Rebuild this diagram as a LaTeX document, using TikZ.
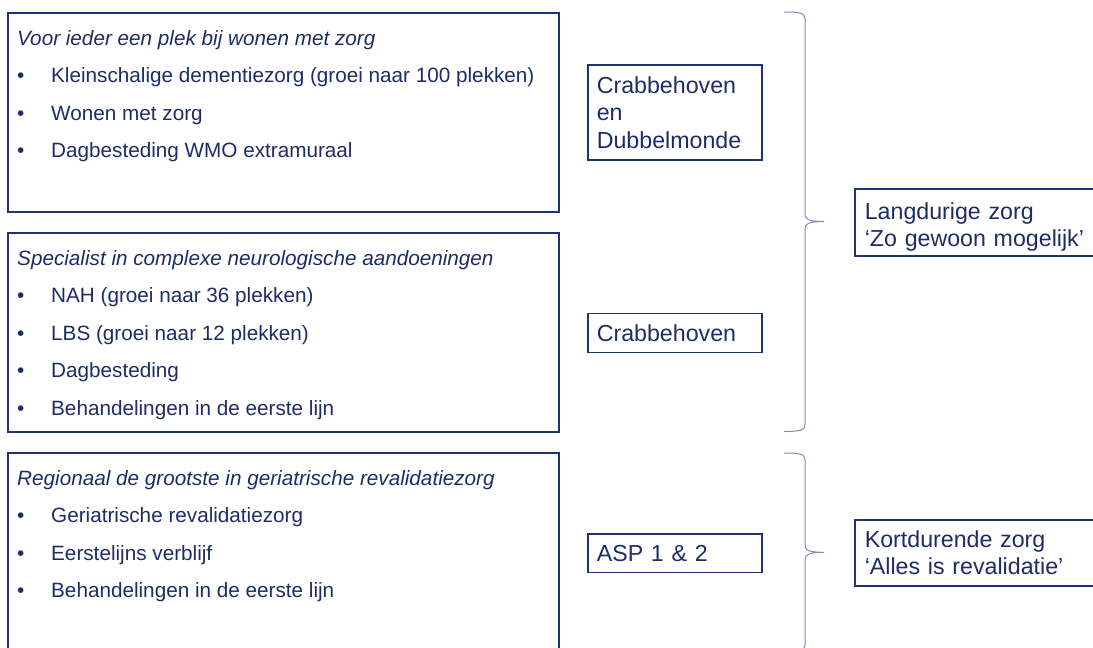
\documentclass[tikz,border=0pt]{standalone}
\usepackage{fontspec}
\setmainfont{Liberation Sans}
\definecolor{tekstblauw}{RGB}{28,45,102}
\definecolor{kaderblauw}{RGB}{30,52,112}
\definecolor{accoladeblauw}{RGB}{125,140,185}

\begin{document}
\begin{tikzpicture}[x=1pt, y=-1pt,
		vak/.style={draw=kaderblauw, line width=1.6pt, anchor=north west, inner sep=0pt, minimum width=551pt, minimum height=199pt},
		regel/.style={anchor=base west, inner sep=0pt, text=tekstblauw, font=\fontsize{20.7}{24}\selectfont},
		kop/.style={regel, font=\fontsize{20.7}{24}\selectfont\itshape},
		locatie/.style={draw=kaderblauw, line width=1.6pt, anchor=north west, inner xsep=9pt, inner ysep=0pt, text width=156pt, align=left, text=tekstblauw, font=\fontsize{23.2}{27.5}\selectfont},
		zorgsoort/.style={locatie, inner xsep=10pt, text width=240pt},
		accolade/.style={draw=accoladeblauw, line width=1pt}]
	% 1. vaste uitsnede (rechts en onder loopt de dia door)
	\useasboundingbox (0,0) rectangle (1093,648);
	\clip (0,0) rectangle (1093,648);
	
	% 2. drie kaders links
	\node[vak] (vak1) at (7,12) {};
	\node[vak] (vak2) at (7,232) {};
	\node[vak] (vak3) at (7,452) {};
	
	% kader 1: wonen met zorg
	\node[kop] (kop1) at (17,45) {Voor ieder een plek bij wonen met zorg};
	\node[regel] (r11) at (17,82.5) {\makebox[34pt][l]{\textbullet}Kleinschalige dementiezorg (groei naar 100 plekken)};
	\node[regel] (r12) at (17,120) {\makebox[34pt][l]{\textbullet}Wonen met zorg};
	\node[regel] (r13) at (17,157.5) {\makebox[34pt][l]{\textbullet}Dagbesteding WMO extramuraal};
	
	% kader 2: neurologische aandoeningen
	\node[kop] (kop2) at (17,265) {Specialist in complexe neurologische aandoeningen};
	\node[regel] (r21) at (17,302.5) {\makebox[34pt][l]{\textbullet}NAH (groei naar 36 plekken)};
	\node[regel] (r22) at (17,340) {\makebox[34pt][l]{\textbullet}LBS (groei naar 12 plekken)};
	\node[regel] (r23) at (17,377.5) {\makebox[34pt][l]{\textbullet}Dagbesteding};
	\node[regel] (r24) at (17,415) {\makebox[34pt][l]{\textbullet}Behandelingen in de eerste lijn};
	
	% kader 3: revalidatie
	\node[kop] (kop3) at (17,485) {Regionaal de grootste in geriatrische revalidatiezorg};
	\node[regel] (r31) at (17,522.5) {\makebox[34pt][l]{\textbullet}Geriatrische revalidatiezorg};
	\node[regel] (r32) at (17,560) {\makebox[34pt][l]{\textbullet}Eerstelijns verblijf};
	\node[regel] (r33) at (17,597.5) {\makebox[34pt][l]{\textbullet}Behandelingen in de eerste lijn};
	
	% 3. locaties in het midden
	\node[locatie, minimum height=94.7pt] (crabdub) at (587,64.3) {Crabbehoven\\en\\Dubbelmonde};
	\node[locatie, minimum height=39pt] (crab) at (587,312.7) {Crabbehoven};
	\node[locatie, minimum height=38.4pt] (asp) at (587,533.3) {ASP 1 \& 2};
	
	% 4. accolades
	\draw[accolade] (784,12) .. controls (800,12) and (805,13) .. (805,19) -- (805,214)
		.. controls (805,219) and (808,221.5) .. (824,221.5)
		.. controls (808,221.5) and (805,224) .. (805,229) -- (805,425)
		.. controls (805,430) and (800,431.5) .. (784,431.5);
	\draw[accolade] (784,453) .. controls (800,453) and (805,454) .. (805,460) -- (805,545)
		.. controls (805,550) and (808,552.3) .. (824,552.3)
		.. controls (808,552.3) and (805,555) .. (805,560) -- (805,645)
		.. controls (805,650) and (800,651) .. (784,651);
	
	% 5. soort zorg rechts
	\node[zorgsoort, minimum height=66.7pt, text depth=23.5pt] (lang) at (854,188.3) {Langdurige zorg\\‘Zo gewoon mogelijk’};
	\node[zorgsoort, minimum height=66pt] (kort) at (854,519) {Kortdurende zorg\\‘Alles is revalidatie’};
\end{tikzpicture}
\end{document}
